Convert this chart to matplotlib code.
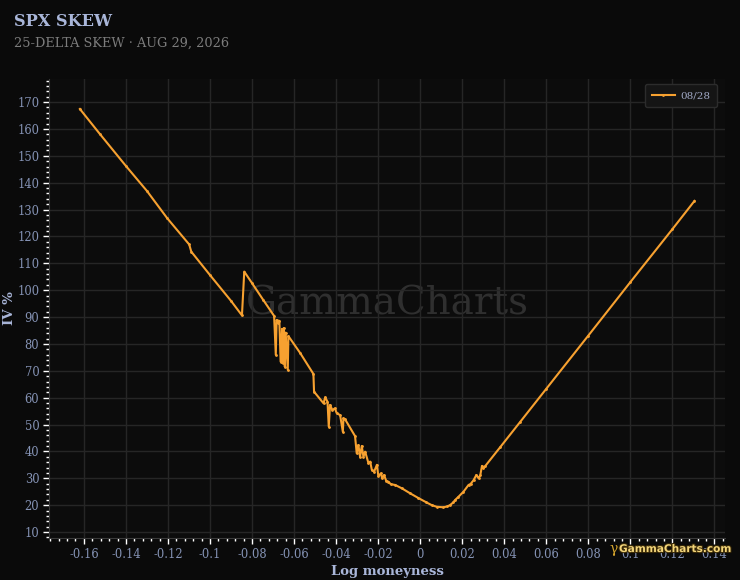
import matplotlib
matplotlib.use("Agg")
import matplotlib.pyplot as plt
from matplotlib.ticker import MultipleLocator, FuncFormatter
import matplotlib.patheffects as pe

# log moneyness vs implied vol
log_m = [-0.1619, -0.1524, -0.1400, -0.1300, -0.1204, -0.1099, -0.1089, -0.1000,
         -0.0900, -0.0848, -0.0837, -0.0800, -0.0748, -0.0695, -0.0687, -0.0683,
         -0.0676, -0.0670, -0.0664, -0.0657, -0.0654, -0.0649, -0.0644, -0.0640,
         -0.0630, -0.0627, -0.0571, -0.0508, -0.0505, -0.0460, -0.0452, -0.0441,
         -0.0435, -0.0429, -0.0418, -0.0406, -0.0397, -0.0381, -0.0368, -0.0365,
         -0.0357, -0.0310, -0.0302, -0.0294, -0.0286, -0.0278, -0.0270, -0.0262,
         -0.0246, -0.0238, -0.0230, -0.0219, -0.0206, -0.0199, -0.0187, -0.0181,
         -0.0172, -0.0162, -0.0151, -0.0140, -0.0119, -0.0086, -0.0048, -0.0010,
         0.0030, 0.0055, 0.0078, 0.0110, 0.0128, 0.0142, 0.0157, 0.0166,
         0.0182, 0.0206, 0.0230, 0.0240, 0.0254, 0.0267, 0.0278, 0.0286,
         0.0294, 0.0301, 0.0310, 0.0381, 0.0476, 0.0600, 0.0800, 0.1000,
         0.1200, 0.1305]
iv = [167.4, 158.1, 146.2, 136.9, 126.8, 117.0, 114.3, 105.6,
      96.0, 90.6, 106.9, 102.6, 96.5, 90.4, 75.9, 88.9,
      87.8, 88.6, 73.4, 85.6, 72.8, 85.9, 71.5, 84.2,
      70.3, 82.9, 76.6, 68.8, 62.2, 57.9, 60.1, 58.5,
      49.2, 57.3, 55.4, 56.0, 54.2, 53.5, 47.3, 52.3,
      51.9, 45.7, 39.3, 42.4, 38.0, 42.0, 38.0, 39.9,
      35.6, 36.2, 33.1, 32.5, 35.0, 30.8, 31.8, 30.0,
      31.2, 29.1, 28.7, 27.8, 27.5, 26.2, 24.4, 22.7,
      21.0, 20.0, 19.4, 19.2, 19.5, 20.0, 21.0, 21.9,
      23.1, 25.0, 27.5, 27.9, 29.3, 31.2, 30.0, 31.2,
      34.6, 33.8, 34.6, 41.6, 51.0, 63.3, 83.1, 103.0,
      122.7, 133.2]

title = "SPX SKEW"
subtitle = "25-DELTA SKEW · AUG 29, 2026"
series_label = "08/28"

BG = "#0a0a0a"
AX_BG = "#0c0c0c"
GRID = "#262626"
TXT = "#a9b6d9"
TICK_TXT = "#8593b5"
ORANGE = "#f7a130"

plt.rcParams['font.family'] = ['DejaVu Serif']

fig = plt.figure(figsize=(7.4, 5.8), dpi=100, facecolor=BG)
ax = fig.add_axes([0.0662, 0.0724, 0.9135, 0.7914])
ax.set_facecolor(AX_BG)

ax.plot(log_m, iv, color=ORANGE, lw=1.5, marker='o', ms=1.0,
        label=series_label, zorder=3)

ax.set_xlim(-0.1766, 0.145)
ax.set_ylim(7.77, 178.56)

ax.xaxis.set_major_locator(MultipleLocator(0.02))
ax.xaxis.set_minor_locator(MultipleLocator(0.004))
ax.yaxis.set_major_locator(MultipleLocator(10))
ax.yaxis.set_minor_locator(MultipleLocator(2))
ax.xaxis.set_major_formatter(FuncFormatter(lambda v, p: f"{round(v, 3):g}" if abs(v) > 1e-9 else "0"))

ax.grid(True, which='major', color=GRID, lw=1)
ax.tick_params(which='major', direction='out', length=4, width=1, color='white',
               labelcolor=TICK_TXT, labelsize=8.3, pad=3)
ax.tick_params(which='minor', direction='out', length=2, width=1, color='white')
for side in ['top', 'right']:
    ax.spines[side].set_visible(False)
for side in ['left', 'bottom']:
    ax.spines[side].set_color('#3a3a3a')

ax.set_xlabel("Log moneyness", color=TXT, fontsize=9.5, fontweight='bold', labelpad=3)
ax.set_ylabel("IV %", color=TXT, fontsize=9.5, fontweight='bold', labelpad=1)

ax.text(0.5, 0.51, "GammaCharts", transform=ax.transAxes, ha='center', va='center',
        fontsize=28, color='#2f2f2f', zorder=1)

leg = ax.legend(loc='upper right', fontsize=7.5, frameon=True, facecolor='#151515',
                edgecolor='#2c2c2c', labelcolor='#a0a8c4', handlelength=2.2,
                borderpad=0.65, handletextpad=0.5, borderaxespad=0.3,
                bbox_to_anchor=(0.9925, 0.995))
leg.get_frame().set_alpha(1)

fig.text(14 / 740, 1 - 22 / 580, title, color=TXT, fontsize=11.6, fontweight='bold',
         ha='left', va='center')
fig.text(14 / 740, 1 - 43.5 / 580, subtitle, color='#7c7c7c', fontsize=9.3,
         ha='left', va='center')

fig.text(609 / 740, 1 - 549 / 580, "γ", color='#d4a32c', fontsize=10, ha='left',
         va='center')
fig.text(619 / 740, 1 - 549 / 580, "GammaCharts.com", color='#f3d57a', fontsize=7.6,
         fontweight='bold', family='DejaVu Sans', ha='left', va='center',
         path_effects=[pe.withStroke(linewidth=1.5, foreground='#3a2a08')])

fig.savefig("out.png", dpi=100, facecolor=BG)
